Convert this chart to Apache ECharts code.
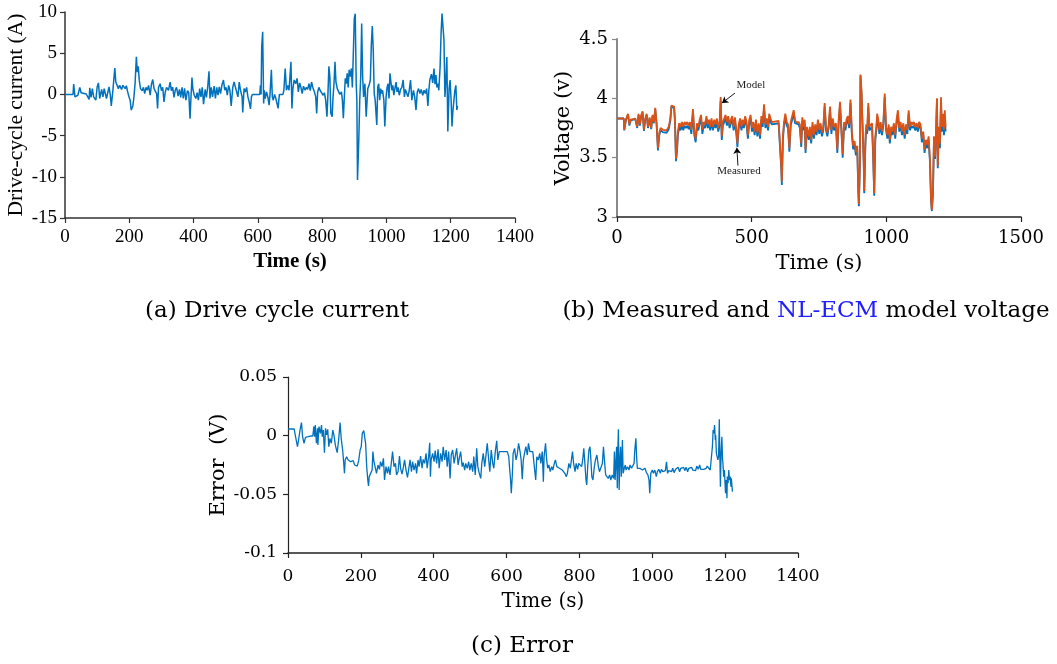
<!DOCTYPE html>
<html><head><meta charset="utf-8">
<script src="https://cdn.jsdelivr.net/npm/echarts@6/dist/echarts.min.js"></script>
<style>html,body{margin:0;padding:0;background:#fff}#c{width:1057px;height:664px}</style>
</head><body><div id="c"></div>
<script>
// ---- (a) Drive cycle current ----
const curT = [0,25,27,31,35,40,46,50,56,66,72,75,77,81,85,89,93,96,100,104,108,114,118,122,129,137,141,144,149,155,158,162,166,170,176,180,187,191,195,199,203,206,211,214,218,222,225,228,231,235,240,244,248,252,256,260,265,269,273,277,281,285,288,291,296,300,304,308,312,316,322,327,331,335,339,343,347,352,356,360,364,368,372,376,381,385,389,392,395,398,402,407,411,415,419,423,427,431,436,440,444,448,451,455,459,464,468,472,476,480,484,488,493,497,501,505,509,513,517,522,526,530,534,538,542,546,551,553,557,561,565,569,573,577,580,583,606,608,610,612,615,618,620,623,627,631,635,638,642,645,648,652,656,660,663,667,678,681,685,689,693,697,700,703,706,709,713,718,722,726,730,734,738,742,747,751,755,759,763,767,771,776,780,783,786,790,794,798,803,807,811,815,818,821,824,827,831,834,837,840,843,847,851,855,860,863,866,869,872,875,878,881,884,888,891,894,897,900,903,906,908,910,914,917,920,923,926,929,933,937,942,946,950,953,956,959,962,965,970,973,976,979,982,985,988,992,995,999,1002,1005,1008,1011,1014,1017,1020,1023,1027,1030,1033,1036,1040,1044,1048,1052,1056,1059,1063,1067,1071,1075,1079,1084,1088,1092,1096,1100,1104,1108,1113,1117,1121,1125,1129,1132,1135,1140,1144,1148,1151,1154,1157,1160,1163,1167,1170,1173,1176,1179,1182,1185,1188,1191,1195,1198,1201,1204,1207,1210,1213,1216,1219,1221];
const curA = [0,0,1.25,-0.3,-0.5,-0.1,0.85,0.2,0.1,0.05,0,-0.6,0.8,-0.35,0.7,-0.3,-0.1,-0.7,0.9,1.4,-0.5,0.6,-0.3,0.7,-0.5,0.9,-0.1,-1.4,0.5,3.2,1.5,1.3,0.7,1.1,0.6,1.1,0.7,1.05,0.3,-0.3,-0.75,-1.9,-1.4,-0.5,1.3,4.55,2.7,3.4,1.7,0.7,0.45,0.85,0.1,0.85,0.5,1.1,-0.1,1.25,1.8,0.7,0.85,0.1,-1.7,0.85,1.3,0.45,0.85,-0.9,0.3,0.85,0.5,1.5,0.45,0.9,-0.35,0.5,0.85,-0.2,0.6,-0.35,0.85,-0.5,0.75,-0.7,0.45,0.2,-2.95,-0.3,2.05,0.6,-0.1,-0.5,0.2,-0.7,0.7,-0.3,0.85,-1.2,0.6,-0.35,0.9,2.8,-0.5,0.85,-0.3,1.0,-0.5,0.85,-0.1,0.9,0.1,1.1,1.75,0.5,0.85,-0.1,1.1,0.5,-1.4,0.85,1.5,1.65,0.3,-0.3,1.5,0.5,-0.3,-2.2,0.7,0.3,0.85,-0.3,-0.9,-1.75,-0.3,0,0,1.1,0,5.8,7.6,-1.1,0.5,-0.5,0.3,-0.3,-1.3,0.1,3.0,-0.3,-0.7,0,-0.5,-0.3,-1.7,0,0,0.5,3.15,0.5,1.1,0.5,0.7,3.95,-1.7,0.7,1.75,1.3,1.95,0.3,1.4,0.85,0.1,1.0,0.5,0.85,0.6,1.3,0.45,1.5,0.85,0.3,-0.3,-2.3,0.3,0.85,0.45,0.6,-0.1,0.2,-0.7,-2.7,0,3.4,2.15,-2.3,-2.7,-0.3,1.4,3.95,1.5,0.7,0.5,0,0.3,-0.7,-2.9,-0.3,1.95,1.3,2.55,0.85,3.0,2.15,3.15,0.85,4.95,9.2,9.8,1.3,-0.7,-10.4,-5.5,-0.7,2.15,8.6,2.15,-0.3,1.3,-2.7,0.7,1.1,1.75,6.0,8.3,5.4,0.1,-0.7,-3.7,0.9,1.3,-0.7,0.7,0.1,0.5,-0.7,-3.9,-0.3,0.85,1.3,-0.5,2.55,1.5,0.5,1.1,-0.1,0.85,1.5,0.3,0.85,-0.1,0.6,0.85,1.75,-0.3,0.6,0.7,-0.3,0.5,1.75,-0.7,0.5,-0.3,-1.9,0.3,0.7,0.1,0.6,-0.1,0.5,0.1,0.7,-1.4,0.5,1.75,2.45,1.4,3.15,1.25,2.35,0.85,1.3,0.5,3.35,7.4,9.8,9.9,6.6,-0.3,1.75,4.55,-4.5,0.7,1.75,-0.5,-3.9,-1.9,-0.7,0.5,1.1,-1.9,-1.4];
const curXTicks = [0,200,400,600,800,1000,1200,1400];
const curYTicks = [-15,-10,-5,0,5,10];

// ---- (b) Measured and model voltage ----
const voltT = [0,25,27,33,41,46,51,58,68,75,80,85,90,95,100,105,110,115,121,127,132,137,142,147,152,157,162,170,177,184,192,198,202,207,212,215,219,223,226,231,236,241,246,251,256,261,266,271,276,282,287,292,297,302,307,312,317,322,327,332,337,342,346,351,356,361,366,371,376,381,385,389,393,398,403,408,413,418,423,428,433,438,443,447,452,457,462,466,471,476,481,486,491,496,501,506,511,516,521,526,531,536,541,546,551,556,561,565,570,575,580,600,606,610,612,616,620,625,630,635,640,645,650,656,661,664,674,679,684,688,693,697,700,705,712,716,721,726,731,736,741,746,751,756,761,766,771,776,781,786,791,796,801,806,813,818,823,828,833,838,843,848,852,857,862,867,872,877,882,887,892,896,898,902,904,908,912,916,918,922,925,929,933,937,942,947,951,955,959,963,966,970,974,979,984,989,994,999,1004,1009,1013,1018,1023,1028,1033,1038,1043,1048,1053,1058,1063,1068,1073,1078,1083,1088,1093,1097,1102,1107,1112,1117,1122,1127,1132,1137,1142,1147,1152,1157,1162,1166,1169,1173,1177,1181,1184,1188,1191,1195,1199,1203,1206,1210,1214,1217,1220];
const modelV = [3.83,3.83,3.735,3.82,3.87,3.78,3.82,3.82,3.83,3.76,3.87,3.78,3.86,3.89,3.735,3.83,3.87,3.76,3.84,3.75,3.86,3.80,3.92,3.79,3.58,3.71,3.75,3.735,3.75,3.73,3.76,3.83,3.94,3.94,3.93,3.83,3.49,3.58,3.72,3.79,3.76,3.80,3.76,3.80,3.78,3.80,3.77,3.80,3.735,3.91,3.72,3.66,3.79,3.76,3.82,3.86,3.735,3.80,3.78,3.85,3.78,3.82,3.76,3.83,3.76,3.82,3.78,3.83,3.75,3.80,4.01,3.68,3.80,3.83,3.86,3.80,3.85,3.78,3.82,3.85,3.76,3.84,3.735,3.62,3.78,3.83,3.76,3.82,3.78,3.85,3.80,3.69,3.82,3.86,3.75,3.80,3.72,3.82,3.71,3.79,3.69,3.85,3.79,3.95,3.78,3.83,3.76,3.87,3.83,3.80,3.81,3.81,3.80,3.43,3.30,3.68,3.80,3.87,3.80,3.78,3.58,3.80,3.79,3.90,3.82,3.80,3.80,3.78,3.62,3.84,3.76,3.82,3.57,3.76,3.68,3.76,3.65,3.80,3.69,3.78,3.72,3.82,3.735,3.79,3.71,3.76,3.96,3.76,3.71,3.78,3.93,3.735,3.83,3.76,3.79,3.57,3.82,3.97,3.76,3.53,3.80,3.76,3.82,3.85,3.78,3.99,3.72,3.60,3.64,3.55,3.60,3.23,3.11,3.48,4.20,4.06,3.76,3.48,3.22,3.62,3.78,3.735,3.96,3.76,3.75,3.79,3.54,3.20,3.68,3.76,3.87,3.82,3.735,3.80,3.72,3.80,4.04,3.76,3.69,3.78,3.65,3.76,3.72,3.79,3.69,3.82,3.90,3.75,3.80,3.72,3.79,3.69,3.78,3.735,3.90,3.76,3.80,3.78,3.80,3.76,3.79,3.75,3.80,3.78,3.66,3.72,3.57,3.65,3.61,3.68,3.48,3.15,3.06,3.20,3.68,3.51,3.68,4.00,3.43,3.76,3.62,4.01,3.76,3.87,3.735,3.90,3.76];
const measV = [3.83,3.83,3.73,3.815,3.865,3.77,3.815,3.815,3.825,3.75,3.86,3.77,3.85,3.88,3.725,3.82,3.86,3.75,3.83,3.74,3.85,3.79,3.91,3.78,3.56,3.69,3.73,3.715,3.73,3.71,3.74,3.81,3.93,3.93,3.92,3.81,3.47,3.56,3.69,3.76,3.73,3.77,3.73,3.77,3.75,3.77,3.74,3.77,3.70,3.88,3.69,3.63,3.76,3.73,3.79,3.83,3.70,3.77,3.75,3.82,3.75,3.79,3.73,3.80,3.73,3.79,3.75,3.80,3.72,3.77,3.98,3.65,3.77,3.80,3.83,3.77,3.82,3.75,3.79,3.82,3.73,3.81,3.70,3.59,3.75,3.80,3.73,3.79,3.75,3.82,3.77,3.66,3.79,3.83,3.72,3.77,3.69,3.79,3.68,3.76,3.66,3.82,3.76,3.92,3.75,3.80,3.73,3.84,3.80,3.78,3.79,3.79,3.78,3.40,3.27,3.65,3.77,3.84,3.77,3.75,3.55,3.77,3.76,3.87,3.79,3.78,3.78,3.75,3.59,3.81,3.73,3.79,3.54,3.73,3.65,3.73,3.62,3.77,3.66,3.75,3.69,3.79,3.70,3.76,3.68,3.73,3.93,3.73,3.68,3.75,3.90,3.70,3.80,3.73,3.76,3.54,3.79,3.94,3.73,3.50,3.77,3.73,3.79,3.82,3.75,3.96,3.69,3.57,3.61,3.52,3.57,3.20,3.09,3.45,4.19,4.03,3.73,3.45,3.20,3.59,3.75,3.70,3.93,3.73,3.72,3.76,3.51,3.18,3.65,3.73,3.84,3.79,3.70,3.77,3.69,3.77,4.01,3.73,3.66,3.75,3.62,3.73,3.69,3.76,3.66,3.79,3.87,3.72,3.77,3.69,3.76,3.66,3.75,3.70,3.87,3.73,3.77,3.75,3.77,3.73,3.76,3.72,3.77,3.75,3.63,3.69,3.54,3.62,3.58,3.65,3.46,3.13,3.05,3.19,3.67,3.49,3.67,3.99,3.41,3.73,3.58,3.97,3.72,3.83,3.69,3.86,3.72];
const voltXTicks = [0,500,1000,1500];
const voltYTicks = [3,3.5,4,4.5];

// ---- (c) Error ----
const errT = [0,17,19,23,26,29,33,37,40,44,48,55,62,68,71,73,75,78,81,82,85,89,92,94,97,100,103,106,109,112,115,119,123,126,130,133,135,139,143,146,150,153,155,157,161,165,168,172,176,179,183,187,190,194,198,201,204,208,210,213,216,219,221,223,227,231,233,236,240,243,247,251,254,258,262,265,269,273,276,280,284,287,291,295,298,302,306,309,313,317,320,324,328,331,335,339,342,346,350,353,357,360,364,368,371,375,379,382,386,389,391,393,397,401,404,408,412,415,419,423,426,430,434,437,441,445,448,452,456,459,463,467,470,474,478,481,485,488,492,496,499,503,507,510,514,518,521,525,529,532,536,540,543,547,551,554,558,562,565,569,573,576,580,585,591,596,602,606,608,611,613,616,618,622,626,629,633,637,640,643,646,649,653,657,660,664,668,672,676,680,683,687,691,694,698,701,703,707,710,713,716,720,724,727,731,734,738,742,745,749,753,756,760,764,767,771,775,778,781,784,788,791,795,798,802,806,809,812,815,818,820,823,826,829,831,834,837,841,844,848,852,855,859,863,866,869,872,875,879,883,886,890,894,896,898,900,902,904,905,907,909,911,913,915,916,918,920,923,926,928,932,936,939,943,947,950,952,955,957,959,962,966,970,973,977,980,984,988,991,993,996,1000,1003,1007,1011,1014,1018,1022,1025,1029,1033,1036,1039,1042,1045,1049,1053,1056,1060,1064,1067,1071,1075,1078,1082,1086,1089,1093,1097,1100,1104,1108,1111,1115,1119,1122,1126,1130,1133,1137,1141,1144,1148,1151,1155,1159,1162,1165,1167,1169,1171,1173,1174,1176,1178,1180,1182,1184,1185,1187,1189,1191,1193,1194,1196,1198,1201,1203,1205,1206,1208,1210,1212,1214,1216,1217,1220];
const errV = [0.0057,0.0057,0.002,0.0006,-0.0094,-0.0037,0.0048,0.0111,-0.0009,-0.0065,-0.0014,-0.0009,-0.0003,-0.0003,0.0077,-0.0009,0.0091,-0.0065,0.0063,-0.008,0.0077,0.002,0.0091,-0.0009,0.0048,-0.0145,0.0063,0.0006,0.0054,-0.0094,-0.0023,-0.0065,0.0048,0.0006,-0.008,-0.0094,-0.0145,-0.0037,0.0111,-0.0023,-0.0122,-0.0236,-0.0321,-0.0207,-0.0179,-0.0207,-0.0193,-0.0222,-0.023,-0.0213,-0.025,-0.0236,-0.0259,-0.0213,-0.0122,-0.0094,0.002,0.0043,0.0026,-0.0065,-0.0264,-0.0378,-0.0429,-0.0349,-0.0364,-0.0293,-0.0136,-0.0222,-0.0236,-0.0321,-0.025,-0.0287,-0.0222,-0.0264,-0.0193,-0.0378,-0.0264,-0.0321,-0.0264,-0.0335,-0.0349,-0.0136,-0.0264,-0.0236,-0.0335,-0.0307,-0.0173,-0.0278,-0.0327,-0.0264,-0.0207,-0.0293,-0.0355,-0.0293,-0.0207,-0.0307,-0.0222,-0.0293,-0.0236,-0.0321,-0.0207,-0.0264,-0.0173,-0.0278,-0.0202,-0.0236,-0.0151,-0.0278,-0.0179,-0.006,-0.0349,-0.0207,-0.0151,-0.0222,-0.0128,-0.0236,-0.0116,-0.0278,-0.0151,-0.0222,-0.0094,-0.0207,-0.0122,-0.0264,-0.0136,-0.0364,-0.0165,-0.0122,-0.0236,-0.0179,-0.0108,-0.025,-0.0193,-0.0136,-0.0264,-0.023,-0.0293,-0.0236,-0.0278,-0.0222,-0.0293,-0.0236,-0.0307,-0.0179,-0.0335,-0.0108,-0.0264,-0.0321,-0.0364,-0.0236,-0.0151,-0.0264,-0.0179,-0.0065,-0.0207,-0.0307,-0.0122,-0.0236,-0.0278,-0.0136,-0.0043,-0.0207,-0.0136,-0.0128,-0.0136,-0.0145,-0.0136,-0.0179,-0.0264,-0.0378,-0.0491,-0.0321,-0.0151,-0.0108,-0.0207,-0.0165,-0.0065,-0.0136,-0.0207,-0.0372,-0.0207,-0.0156,-0.0094,-0.0165,-0.0065,-0.0136,-0.0145,-0.0136,-0.0122,-0.0378,-0.0179,-0.0207,-0.0151,-0.0236,-0.0136,-0.0392,-0.0179,-0.0065,-0.0207,-0.0278,-0.025,-0.0307,-0.0264,-0.0293,-0.0236,-0.0207,-0.0264,-0.027,-0.0278,-0.0264,-0.0293,-0.0307,-0.0321,-0.0349,-0.0321,-0.0236,-0.0278,-0.0207,-0.0136,-0.0236,-0.0307,-0.0236,-0.0287,-0.0236,-0.0222,-0.0264,-0.0207,-0.0108,-0.0236,-0.0378,-0.042,-0.025,-0.0122,-0.0094,-0.0179,-0.0349,-0.0378,-0.0264,-0.0207,-0.0165,-0.0264,-0.0307,-0.0321,-0.0236,-0.0094,-0.0222,-0.0335,-0.0349,-0.0364,-0.0335,-0.0378,-0.0335,-0.0364,-0.0136,-0.0378,-0.0236,-0.0094,-0.0449,-0.0179,0.0054,-0.0463,-0.0207,-0.0094,-0.0349,-0.0264,-0.0037,-0.0321,-0.0278,-0.025,-0.0293,-0.0264,-0.0293,-0.025,-0.0278,-0.0264,-0.0236,-0.0122,-0.0023,-0.0179,-0.0278,-0.0264,-0.0278,-0.0287,-0.0293,-0.0307,-0.0278,-0.0315,-0.0335,-0.0378,-0.0491,-0.0321,-0.0293,-0.0321,-0.0293,-0.0349,-0.0307,-0.0287,-0.0321,-0.0287,-0.0307,-0.0293,-0.0298,-0.0222,-0.0321,-0.0298,-0.0287,-0.0307,-0.0278,-0.0315,-0.0287,-0.0298,-0.027,-0.0307,-0.0278,-0.0293,-0.027,-0.0298,-0.027,-0.0307,-0.0278,-0.0287,-0.027,-0.0293,-0.0278,-0.0298,-0.0259,-0.0287,-0.025,-0.0287,-0.027,-0.0287,-0.027,-0.0278,-0.0259,-0.027,-0.0293,-0.0278,-0.0094,0.0048,0.002,0.0091,-0.0037,0.0006,-0.0151,-0.0136,-0.0207,-0.0179,0.0139,-0.0094,-0.0435,-0.0136,-0.0009,-0.0207,-0.0236,-0.0349,-0.0293,-0.0491,-0.0378,-0.0534,-0.0349,-0.0406,-0.0293,-0.0378,-0.0349,-0.0435,-0.0364,-0.0477];
const errXTicks = [0,200,400,600,800,1000,1200,1400];
const errYTicks = [-0.1,-0.05,0,0.05];

const zip = (xs, ys) => xs.map((x, i) => [x, ys[i]]);
const TIMES = 'Liberation Serif';
const CM = 'DejaVu Serif';
const BLUE = '#0072BD', ORANGE = '#D95319';
const plain = v => String(+v.toFixed(3));

function xAx(gi, ticks, nameText, font, fs, nameFs, gap, margin, lineColor, weight) {
  return {
    type: 'value', gridIndex: gi, min: ticks[0], max: ticks[ticks.length-1], interval: ticks[1]-ticks[0],
    name: nameText, nameLocation: 'middle', nameGap: gap,
    nameTextStyle: {fontFamily: font, fontSize: nameFs, color: '#000', fontWeight: weight || 'normal'},
    axisLine: {show: true, onZero: false, lineStyle: {color: lineColor, width: 1.5}},
    axisTick: {show: true, inside: false, length: 5, lineStyle: {color: lineColor, width: 1.2}},
    axisLabel: {fontFamily: font, fontSize: fs, color: '#000', margin: margin, formatter: plain},
    splitLine: {show: false}
  };
}
function yAx(gi, ticks, nameText, font, fs, nameFs, gap, margin, lineColor, lw) {
  return {
    type: 'value', gridIndex: gi, min: ticks[0], max: ticks[ticks.length-1], interval: +(ticks[1]-ticks[0]).toFixed(4),
    name: nameText, nameLocation: 'middle', nameGap: gap,
    nameTextStyle: {fontFamily: font, fontSize: nameFs, color: '#000'},
    axisLine: {show: true, onZero: false, lineStyle: {color: lineColor, width: lw}},
    axisTick: {show: true, inside: false, length: 5, lineStyle: {color: lineColor, width: 1.2}},
    axisLabel: {fontFamily: font, fontSize: fs, color: '#000', margin: margin, formatter: plain},
    splitLine: {show: false}
  };
}

const chart = echarts.init(document.getElementById('c'), null, {renderer: 'canvas'});
chart.setOption({
  backgroundColor: '#fff',
  animation: false,
  grid: [
    {left: 65, top: 12, width: 450, height: 206},
    {left: 617, top: 39, width: 404, height: 178},
    {left: 288, top: 377, width: 510, height: 176}
  ],
  xAxis: [
    xAx(0, curXTicks, 'Time (s)', TIMES, 19, 21, 33, 10, '#333', 'bold'),
    xAx(1, voltXTicks, 'Time (s)', CM, 18, 21, 36, 12, '#222'),
    xAx(2, errXTicks, 'Time (s)', CM, 17, 20, 39, 15, '#222')
  ],
  yAxis: [
    yAx(0, curYTicks, 'Drive-cycle current (A)', TIMES, 19, 21.5, 36, 8, '#333', 1.5),
    yAx(1, voltYTicks, 'Voltage (v)', CM, 18, 21, 43, 9, '#888', 2),
    yAx(2, errYTicks, 'Error  (V)', CM, 17, 21, 58, 11, '#222', 1.2)
  ],
  series: [
    {type: 'line', xAxisIndex: 0, yAxisIndex: 0, data: zip(curT, curA), showSymbol: false, symbol: 'none',
     lineStyle: {color: BLUE, width: 1.5}, z: 3},
    {type: 'line', xAxisIndex: 1, yAxisIndex: 1, data: zip(voltT, measV), showSymbol: false, symbol: 'none',
     lineStyle: {color: BLUE, width: 1.8}, z: 3},
    {type: 'line', xAxisIndex: 1, yAxisIndex: 1, data: zip(voltT, modelV), showSymbol: false, symbol: 'none',
     lineStyle: {color: ORANGE, width: 1.8}, z: 4,
     markLine: {
       silent: true, symbol: ['none', 'arrow'], symbolSize: 6,
       lineStyle: {color: '#000', width: 0.9, type: 'solid'}, label: {show: false},
       data: [
         [{coord: [438, 4.044]}, {coord: [390, 3.961]}],
         [{coord: [449, 3.433]}, {coord: [445, 3.584]}]
       ]
     },
     markPoint: {
       silent: true, symbol: 'circle', symbolSize: 0.1,
       label: {show: true, position: 'inside', fontFamily: TIMES, fontSize: 11, color: '#222'},
       data: [
         {coord: [497, 4.111], value: 'Model', label: {formatter: 'Model'}},
         {coord: [453, 3.383], value: 'Measured', label: {formatter: 'Measured'}}
       ]
     }},
    {type: 'line', xAxisIndex: 2, yAxisIndex: 2, data: zip(errT, errV), showSymbol: false, symbol: 'none',
     lineStyle: {color: BLUE, width: 1.3}, z: 3}
  ],
  graphic: [
    {type: 'text', style: {text: '(a) Drive cycle current', font: '23px "DejaVu Serif"', fill: '#000', textAlign: 'center', textVerticalAlign: 'middle', x: 277, y: 311}},
    {type: 'text', style: {
      text: '{a|(b) Measured and }{b|NL-ECM}{a| model voltage}',
      x: 806, y: 311, textAlign: 'center', textVerticalAlign: 'middle',
      rich: {a: {fontFamily: CM, fontSize: 23, fill: '#000'}, b: {fontFamily: CM, fontSize: 23, fill: '#2020ff'}}
    }},
    {type: 'text', style: {text: '(c) Error', font: '23px "DejaVu Serif"', fill: '#000', textAlign: 'center', textVerticalAlign: 'middle', x: 522, y: 646}}
  ]
});
</script></body></html>
